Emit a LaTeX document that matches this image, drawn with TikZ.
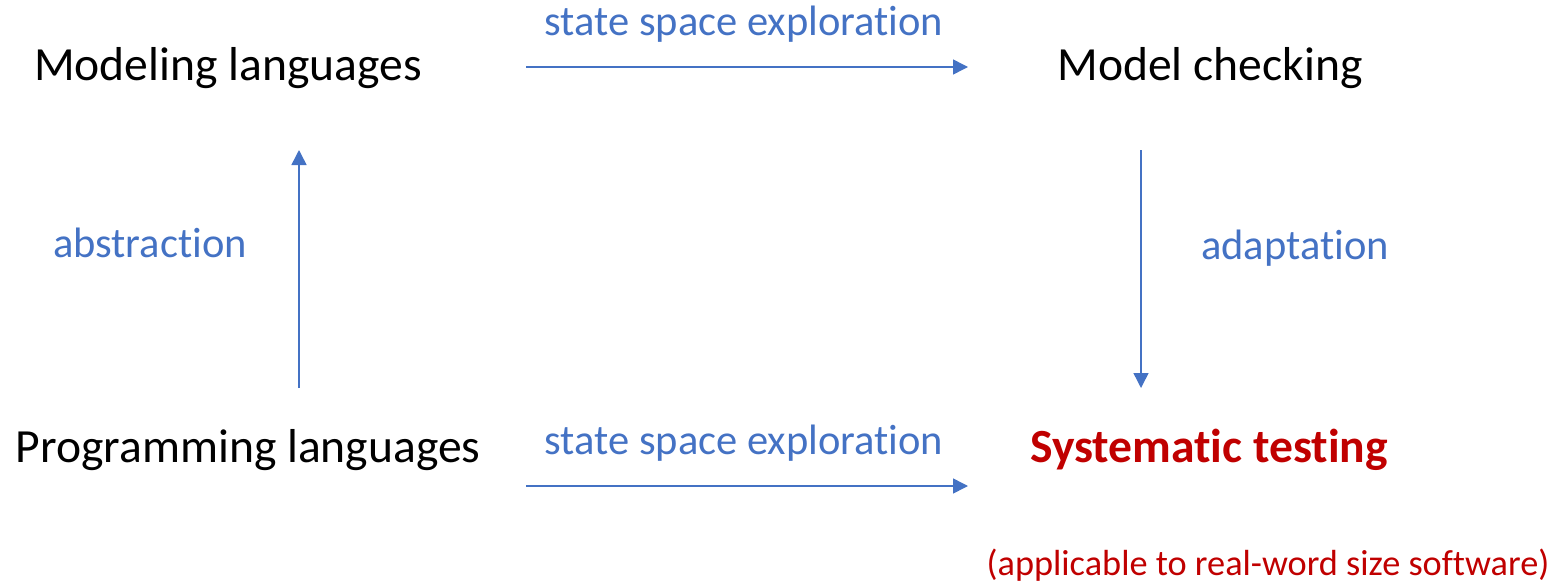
\documentclass[tikz,border=0pt]{standalone}
\usepackage{fontspec}
\setmainfont[RawFeature={-liga;-clig}]{Carlito}
\usetikzlibrary{arrows.meta}
\definecolor{flowblue}{HTML}{4472C4}
\definecolor{darkred}{HTML}{C00000}
\begin{document}
\begin{tikzpicture}[x=1pt,y=-1pt,
  concept/.style={anchor=base,inner sep=0pt,font=\fontsize{47.6}{56}\selectfont},
  goal/.style={concept,text=darkred,font=\fontsize{47.6}{56}\selectfont\bfseries},
  label/.style={anchor=base,inner sep=0pt,text=flowblue,font=\fontsize{42.5}{50}\selectfont},
  note/.style={anchor=base,inner sep=0pt,text=darkred,font=\fontsize{36.3}{44}\selectfont},
  flow/.style={draw=flowblue,line width=1.5pt,-{Triangle[length=15pt,width=15pt]}}]
\useasboundingbox (0,0) rectangle (1560,583);
% concepts
\node[concept] (model) at (228,81) {Modeling languages};
\node[concept] (check) at (1210,81) {Model checking};
\node[concept] (prog) at (248,462) {Programming languages};
\node[goal] (test) at (1209,462) {Systematic testing};
\node[note] (size) at (1268,575) {(applicable to real-word size software)};
% arrow labels
\node[label] (sse1) at (744,36) {state space exploration};
\node[label] (sse2) at (744,454) {state space exploration};
\node[label] (abs) at (150,257) {abstraction};
\node[label] (adp) at (1295,259) {adaptation};
% arrow end points
\coordinate (a1s) at (526,67);  \coordinate (a1e) at (968,67);
\coordinate (a2s) at (526,486); \coordinate (a2e) at (968,486);
\coordinate (a3s) at (299,388); \coordinate (a3e) at (299,150);
\coordinate (a4s) at (1141,150); \coordinate (a4e) at (1141,388);
\draw[flow] (a1s) -- (a1e);
\draw[flow] (a2s) -- (a2e);
\draw[flow] (a3s) -- (a3e);
\draw[flow] (a4s) -- (a4e);
\end{tikzpicture}
\end{document}
